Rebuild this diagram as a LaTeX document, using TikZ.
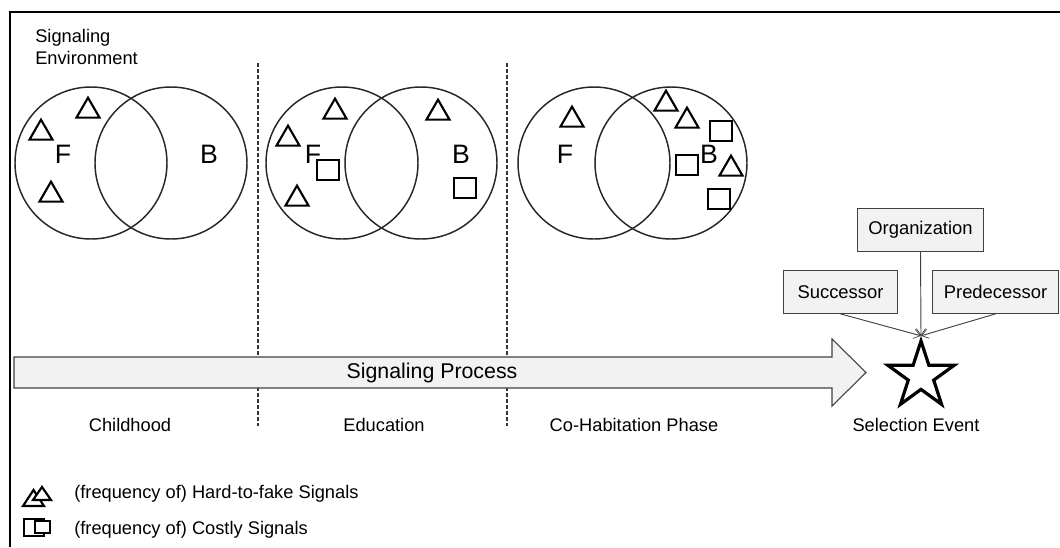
\documentclass[tikz,border=0pt]{standalone}
\usepackage{fontspec}
\setmainfont{Liberation Sans}
\usetikzlibrary{shapes.geometric,arrows.meta}
\definecolor{boxgray}{HTML}{F2F2F2}
\definecolor{linegray}{HTML}{404040}
\begin{document}
\begin{tikzpicture}[x=0.75pt,y=-0.75pt,
  venn/.style={circle,draw=black!85,line width=1.1pt,minimum size=114pt,inner sep=0pt},
  tri/.style={regular polygon,regular polygon sides=3,draw=black,line width=1.6pt,minimum size=20pt,inner sep=0pt},
  sq/.style={rectangle,draw=black,line width=1.6pt,minimum width=16.5pt,minimum height=15pt,inner sep=0pt},
  setlabel/.style={font=\fontsize{20}{24}\selectfont,inner sep=0pt},
  phase/.style={font=\fontsize{13.7}{16}\selectfont},
  actor/.style={rectangle,draw=linegray,fill=boxgray,line width=0.8pt,font=\fontsize{13.8}{16}\selectfont,minimum height=32pt,inner sep=0pt},
  conn/.style={draw=linegray,line width=0.7pt,-{Straight Barb[length=5pt,width=7pt,line width=0.5pt]}},
  divider/.style={draw=black!80,line width=0.9pt,dash pattern=on 3pt off 1.5pt},
  legend/.style={font=\fontsize{13.7}{16}\selectfont,anchor=west,inner sep=0pt},
  keymark/.style={line width=1.6pt,line join=miter}
]
\useasboundingbox (0,0) rectangle (1060,547);

% open frame: top and left edges
\draw[line width=1.4pt] (10,547) -- (10,12) -- (1060,12);

\node[font=\fontsize{13.7}{16.2}\selectfont,align=left,anchor=north west,inner sep=0pt] (env) at (35,29) {Signaling\\Environment};

% phase dividers
\draw[divider] (258,63) -- (258,426);
\draw[divider] (507,63) -- (507,426);

% Childhood
\node[venn] (f1) at (91,163) {};
\node[venn] (b1) at (171,163) {};
\node[setlabel] (F1) at (63,154) {F};
\node[setlabel] (B1) at (209,154) {B};
\node[tri] (t11) at (88,111) {};
\node[tri] (t12) at (41,133) {};
\node[tri] (t13) at (51,195) {};

% Education
\node[venn] (f2) at (342,163) {};
\node[venn] (b2) at (421,163) {};
\node[setlabel] (F2) at (313,154) {F};
\node[setlabel] (B2) at (461,154) {B};
\node[tri] (t21) at (335,112) {};
\node[tri] (t22) at (288,139) {};
\node[tri] (t23) at (297,199) {};
\node[tri] (t24) at (438,113) {};
\node[sq] (s21) at (328,170) {};
\node[sq] (s22) at (465,188) {};

% Co-habitation
\node[venn] (f3) at (594,163) {};
\node[venn] (b3) at (671,163) {};
\node[setlabel] (F3) at (565,154) {F};
\node[setlabel] (B3) at (709,154) {B};
\node[tri] (t31) at (572,120) {};
\node[tri] (t32) at (666,104) {};
\node[tri] (t33) at (687,121) {};
\node[tri] (t34) at (731,169) {};
\node[sq] (s31) at (721,131) {};
\node[sq] (s32) at (687,165) {};
\node[sq] (s33) at (719,199) {};

% process arrow
\draw[draw=linegray,fill=boxgray,line width=0.8pt]
  (14,357) -- (832,357) -- (832,339) -- (866,372.5) -- (832,406) -- (832,388) -- (14,388) -- cycle;
\node[font=\fontsize{16}{18}\selectfont] (proc) at (432,372.5) {Signaling Process};

% phase labels
\node[phase] (ph1) at (130,425) {Childhood};
\node[phase] (ph2) at (384,425) {Education};
\node[phase] (ph3) at (634,425) {Co-Habitation Phase};
\node[phase] (ph4) at (916,425) {Selection Event};

% selection event
\node[star,star points=5,star point ratio=2.618,draw=black,line width=2.4pt,minimum size=52.5pt,inner sep=0pt] (event) at (921,376) {};
\node[actor,minimum width=94pt] (org) at (920.5,230) {Organization};
\node[actor,minimum width=86pt] (succ) at (840.5,292) {Successor};
\node[actor,minimum width=94pt] (pred) at (995.5,292) {Predecessor};
\draw[conn] (org.south) -- (event.north);
\draw[conn] (succ.south) -- (event.north);
\draw[conn] (pred.south) -- (event.north);

% legend marks
\draw[keymark] (23,506) -- (44,506) -- (33.5,490) -- cycle;
\draw[keymark,fill=white] (33,500) -- (51,500) -- (42,487) -- cycle;
\node[legend] (lg1) at (74,494) {(frequency of) Hard-to-fake Signals};
\draw[keymark] (24,519) rectangle (44,536);
\draw[keymark,fill=white] (35,521) rectangle (50,533);
\node[legend] (lg2) at (74,530) {(frequency of) Costly Signals};
\end{tikzpicture}
\end{document}
